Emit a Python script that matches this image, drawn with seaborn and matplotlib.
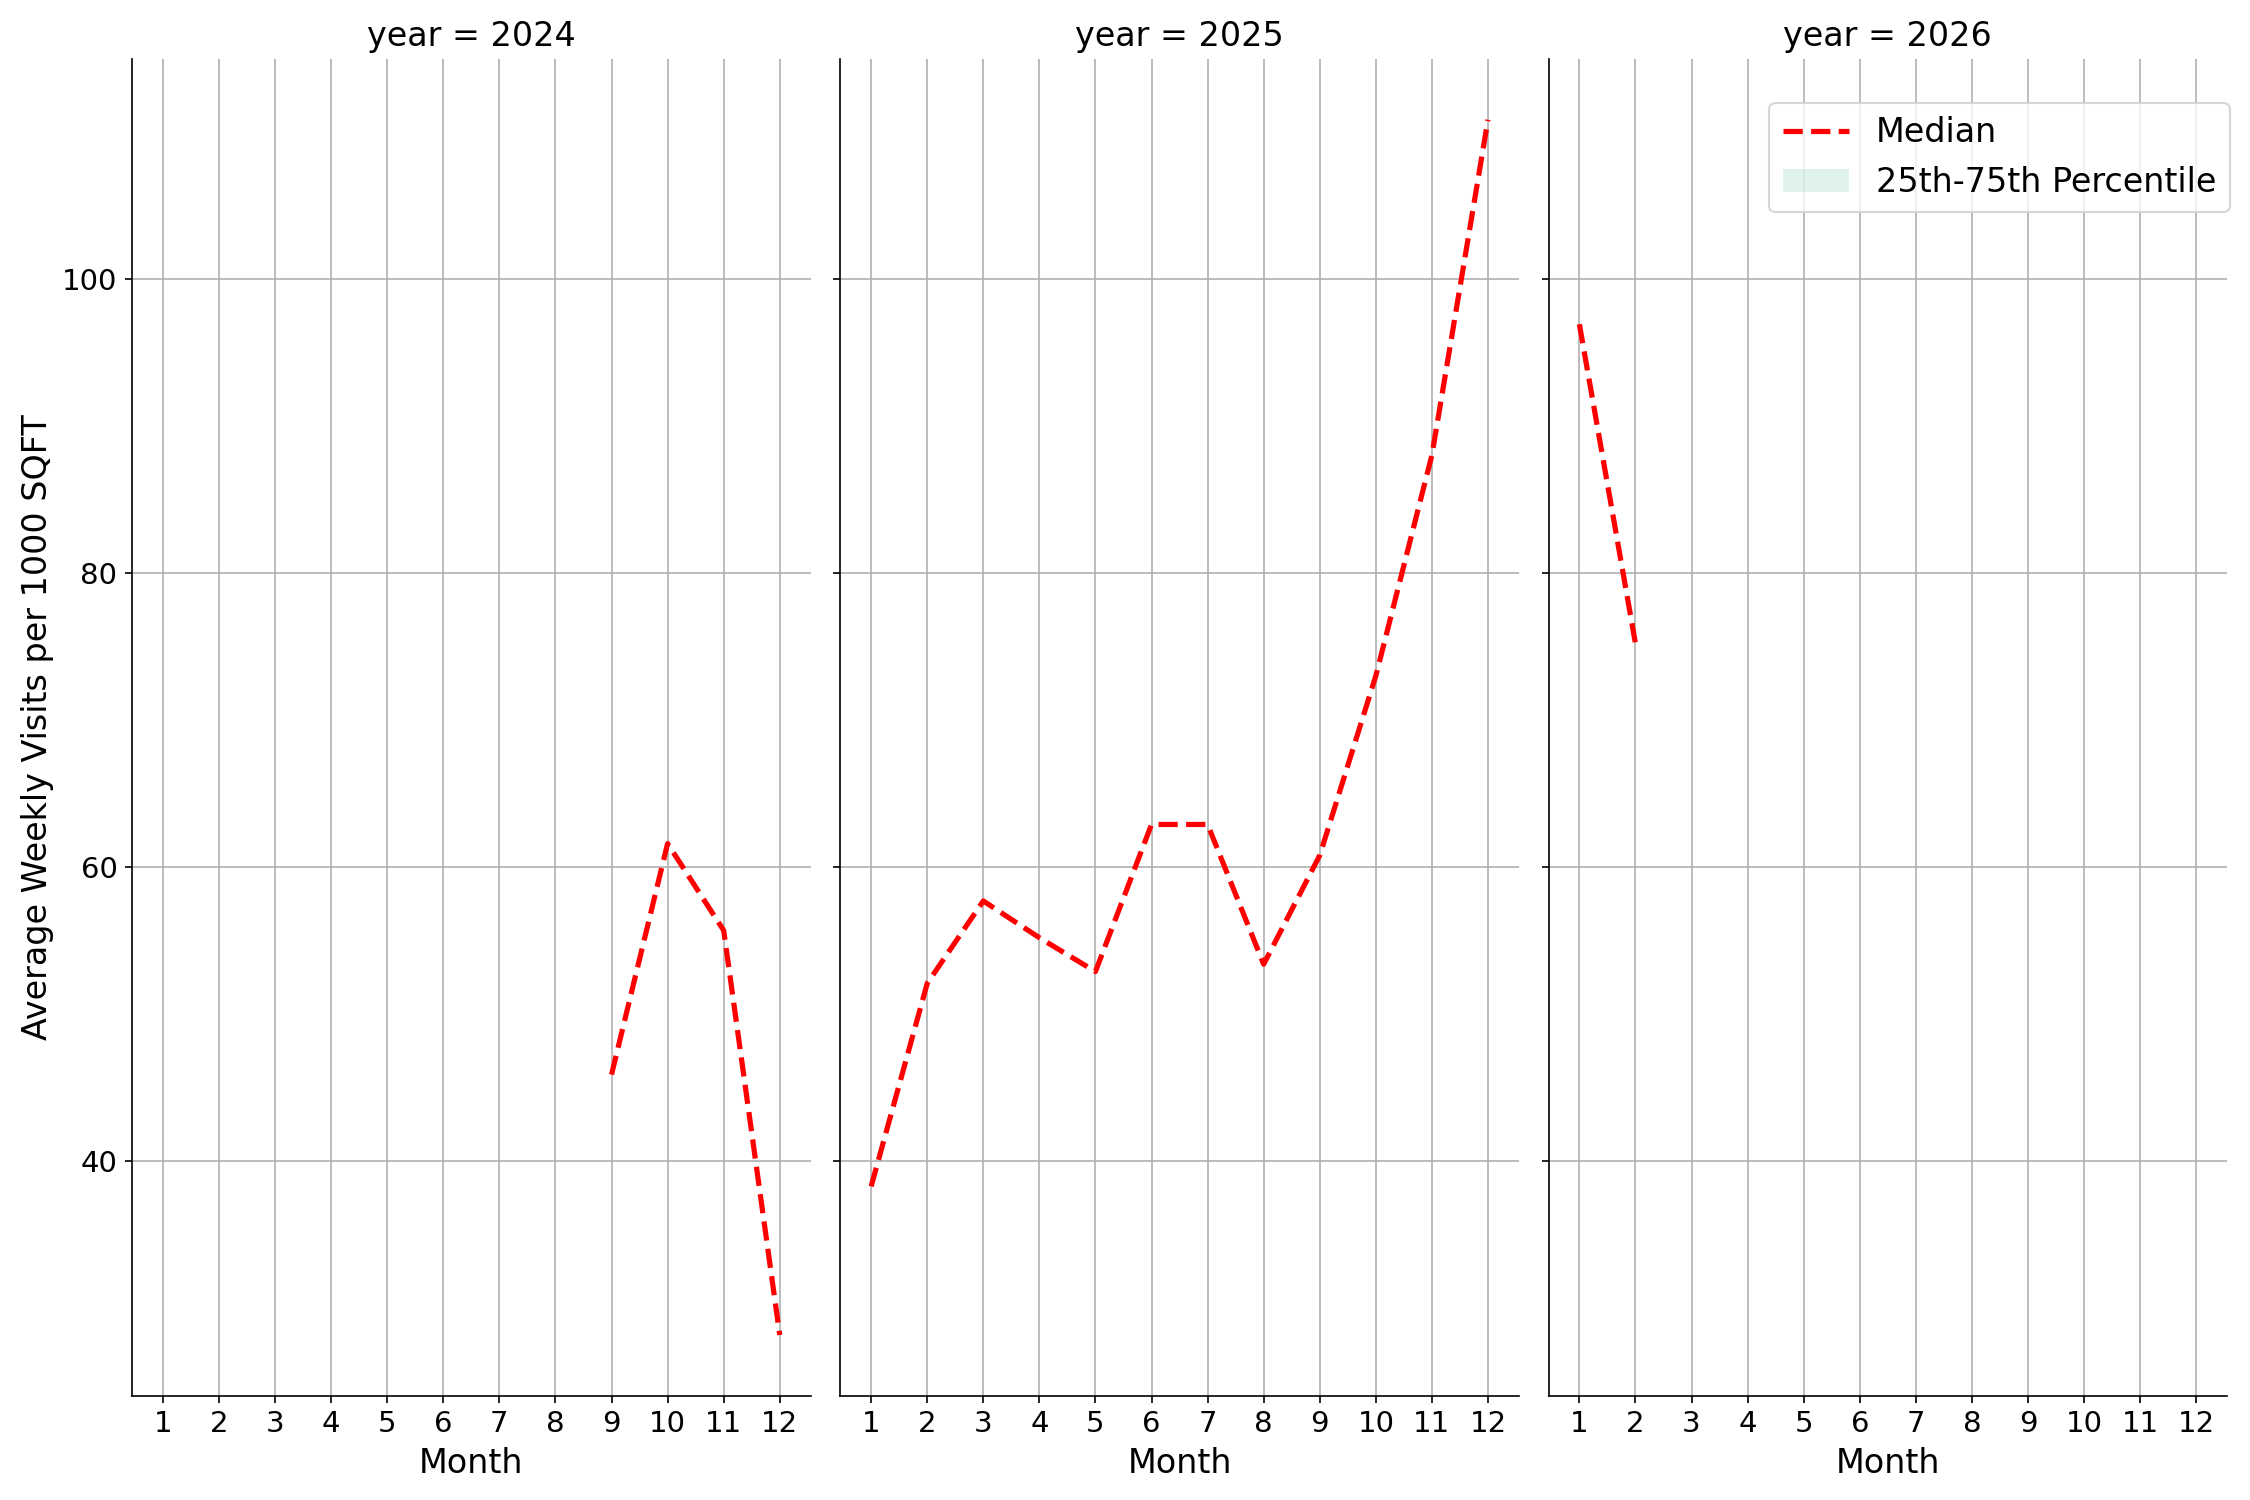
import pandas as pd
import matplotlib
matplotlib.use("Agg")
import matplotlib.pyplot as plt
import seaborn as sns

# median weekly visits per 1000 sqft, by year and month
months_2024 = [9, 10, 11, 12]
median_2024 = [45.9, 61.6, 55.7, 28.2]

months_2025 = [1, 2, 3, 4, 5, 6, 7, 8, 9, 10, 11, 12]
median_2025 = [38.3, 52.1, 57.7, 55.2, 52.9, 62.9, 62.9, 53.4, 60.8, 73.0, 88.0, 110.8]

months_2026 = [1, 2]
median_2026 = [96.9, 75.2]

# only one value per month, so the 25th/75th band collapses onto the median
p25_2024, p75_2024 = median_2024, median_2024
p25_2025, p75_2025 = median_2025, median_2025
p25_2026, p75_2026 = median_2026, median_2026

years = [2024, 2025, 2026]
month_ticks = list(range(1, 13))

frames = []
for yr, m, med, lo, hi in [
    (2024, months_2024, median_2024, p25_2024, p75_2024),
    (2025, months_2025, median_2025, p25_2025, p75_2025),
    (2026, months_2026, median_2026, p25_2026, p75_2026),
]:
    frames.append(pd.DataFrame({"year": yr, "month": m, "median": med, "p25": lo, "p75": hi}))
df = pd.concat(frames, ignore_index=True)


def draw_panel(data, **kws):
    ax = plt.gca()
    ax.fill_between(data["month"], data["p25"], data["p75"], color="#66c2a5",
                    alpha=0.2, linewidth=0, label="25th-75th Percentile")
    sns.lineplot(data=data, x="month", y="median", ax=ax, color="red",
                 linestyle="--", linewidth=2.5, label="Median", legend=False)


g = sns.FacetGrid(df, col="year", col_order=years, height=10, aspect=0.5,
                  sharey=True, sharex=True)
g.map_dataframe(draw_panel)
g.set_titles("year = {col_name}", size=16)
g.set_axis_labels("Month", "Average Weekly Visits per 1000 SQFT", fontsize=16)

for ax in g.axes.flat:
    ax.set_xticks(month_ticks)
    ax.tick_params(labelsize=14)
    ax.grid(True)
    ax.set_axisbelow(True)

last = g.axes.flat[-1]
handles, labels = last.get_legend_handles_labels()
order = [labels.index("Median"), labels.index("25th-75th Percentile")]
last.legend([handles[i] for i in order], [labels[i] for i in order],
            loc="upper right", bbox_to_anchor=(1.004, 0.967), borderaxespad=0,
            fontsize=16)

g.figure.subplots_adjust(left=0.0587, right=0.9898, top=0.9607, bottom=0.0695, wspace=0.0438)
g.figure.savefig("out.png", dpi=150)
